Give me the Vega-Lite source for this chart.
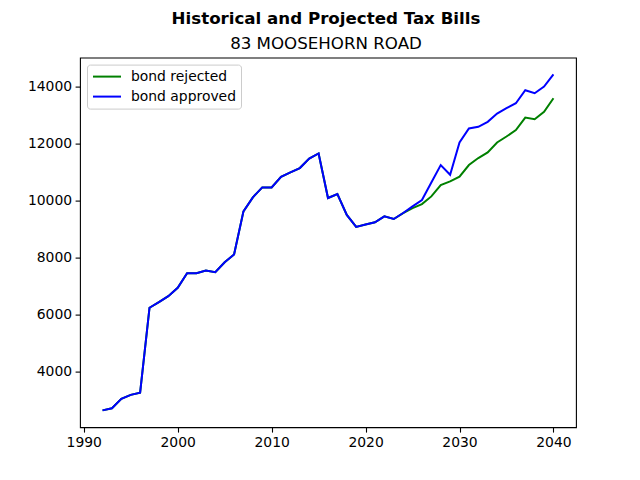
{
  "$schema": "https://vega.github.io/schema/vega-lite/v6.json",
  "width": 496,
  "height": 369.6,
  "autosize": {"type": "none"},
  "padding": {"left": 80, "top": 57.6, "right": 64, "bottom": 52.8},
  "background": "white",
  "title": {
    "text": "Historical and Projected Tax Bills",
    "subtitle": "83 MOOSEHORN ROAD",
    "anchor": "middle",
    "font": "DejaVu Sans",
    "fontSize": 16.67,
    "fontWeight": "bold",
    "color": "black",
    "subtitleFont": "DejaVu Sans",
    "subtitleFontSize": 16.67,
    "subtitleFontWeight": "normal",
    "subtitleColor": "black",
    "subtitlePadding": 8,
    "offset": 5,
    "dx": -2
  },
  "config": {
    "view": {"stroke": "black", "strokeWidth": 1.1},
    "axis": {
      "labelFont": "DejaVu Sans",
      "labelFontSize": 13.9,
      "labelColor": "black",
      "tickColor": "black",
      "tickSize": 4.9,
      "tickWidth": 1.1,
      "labelPadding": 3.5,
      "domain": false,
      "grid": false,
      "title": null
    },
    "legend": {
      "labelFont": "DejaVu Sans",
      "labelFontSize": 13.9,
      "labelColor": "black"
    }
  },
  "data": {
    "values": [
      {"year": 1992, "value": 2625, "series": "bond rejected"},
      {"year": 1993, "value": 2700, "series": "bond rejected"},
      {"year": 1994, "value": 3030, "series": "bond rejected"},
      {"year": 1995, "value": 3170, "series": "bond rejected"},
      {"year": 1996, "value": 3250, "series": "bond rejected"},
      {"year": 1997, "value": 6235, "series": "bond rejected"},
      {"year": 1998, "value": 6432, "series": "bond rejected"},
      {"year": 1999, "value": 6642, "series": "bond rejected"},
      {"year": 2000, "value": 6936, "series": "bond rejected"},
      {"year": 2001, "value": 7449, "series": "bond rejected"},
      {"year": 2002, "value": 7449, "series": "bond rejected"},
      {"year": 2003, "value": 7544, "series": "bond rejected"},
      {"year": 2004, "value": 7485, "series": "bond rejected"},
      {"year": 2005, "value": 7835, "series": "bond rejected"},
      {"year": 2006, "value": 8105, "series": "bond rejected"},
      {"year": 2007, "value": 9625, "series": "bond rejected"},
      {"year": 2008, "value": 10116, "series": "bond rejected"},
      {"year": 2009, "value": 10467, "series": "bond rejected"},
      {"year": 2010, "value": 10467, "series": "bond rejected"},
      {"year": 2011, "value": 10842, "series": "bond rejected"},
      {"year": 2012, "value": 10993, "series": "bond rejected"},
      {"year": 2013, "value": 11147, "series": "bond rejected"},
      {"year": 2014, "value": 11480, "series": "bond rejected"},
      {"year": 2015, "value": 11660, "series": "bond rejected"},
      {"year": 2016, "value": 10094, "series": "bond rejected"},
      {"year": 2017, "value": 10235, "series": "bond rejected"},
      {"year": 2018, "value": 9498, "series": "bond rejected"},
      {"year": 2019, "value": 9076, "series": "bond rejected"},
      {"year": 2020, "value": 9160, "series": "bond rejected"},
      {"year": 2021, "value": 9239, "series": "bond rejected"},
      {"year": 2022, "value": 9449, "series": "bond rejected"},
      {"year": 2023, "value": 9356, "series": "bond rejected"},
      {"year": 2024, "value": 9565, "series": "bond rejected"},
      {"year": 2025, "value": 9737, "series": "bond rejected"},
      {"year": 2026, "value": 9880, "series": "bond rejected"},
      {"year": 2027, "value": 10150, "series": "bond rejected"},
      {"year": 2028, "value": 10550, "series": "bond rejected"},
      {"year": 2029, "value": 10677, "series": "bond rejected"},
      {"year": 2030, "value": 10842, "series": "bond rejected"},
      {"year": 2031, "value": 11252, "series": "bond rejected"},
      {"year": 2032, "value": 11498, "series": "bond rejected"},
      {"year": 2033, "value": 11695, "series": "bond rejected"},
      {"year": 2034, "value": 12046, "series": "bond rejected"},
      {"year": 2035, "value": 12256, "series": "bond rejected"},
      {"year": 2036, "value": 12481, "series": "bond rejected"},
      {"year": 2037, "value": 12923, "series": "bond rejected"},
      {"year": 2038, "value": 12865, "series": "bond rejected"},
      {"year": 2039, "value": 13122, "series": "bond rejected"},
      {"year": 2040, "value": 13602, "series": "bond rejected"},
      {"year": 1992, "value": 2625, "series": "bond approved"},
      {"year": 1993, "value": 2700, "series": "bond approved"},
      {"year": 1994, "value": 3030, "series": "bond approved"},
      {"year": 1995, "value": 3170, "series": "bond approved"},
      {"year": 1996, "value": 3250, "series": "bond approved"},
      {"year": 1997, "value": 6235, "series": "bond approved"},
      {"year": 1998, "value": 6432, "series": "bond approved"},
      {"year": 1999, "value": 6642, "series": "bond approved"},
      {"year": 2000, "value": 6936, "series": "bond approved"},
      {"year": 2001, "value": 7449, "series": "bond approved"},
      {"year": 2002, "value": 7449, "series": "bond approved"},
      {"year": 2003, "value": 7544, "series": "bond approved"},
      {"year": 2004, "value": 7485, "series": "bond approved"},
      {"year": 2005, "value": 7835, "series": "bond approved"},
      {"year": 2006, "value": 8105, "series": "bond approved"},
      {"year": 2007, "value": 9625, "series": "bond approved"},
      {"year": 2008, "value": 10116, "series": "bond approved"},
      {"year": 2009, "value": 10467, "series": "bond approved"},
      {"year": 2010, "value": 10467, "series": "bond approved"},
      {"year": 2011, "value": 10842, "series": "bond approved"},
      {"year": 2012, "value": 10993, "series": "bond approved"},
      {"year": 2013, "value": 11147, "series": "bond approved"},
      {"year": 2014, "value": 11480, "series": "bond approved"},
      {"year": 2015, "value": 11660, "series": "bond approved"},
      {"year": 2016, "value": 10094, "series": "bond approved"},
      {"year": 2017, "value": 10235, "series": "bond approved"},
      {"year": 2018, "value": 9498, "series": "bond approved"},
      {"year": 2019, "value": 9076, "series": "bond approved"},
      {"year": 2020, "value": 9160, "series": "bond approved"},
      {"year": 2021, "value": 9239, "series": "bond approved"},
      {"year": 2022, "value": 9449, "series": "bond approved"},
      {"year": 2023, "value": 9356, "series": "bond approved"},
      {"year": 2024, "value": 9565, "series": "bond approved"},
      {"year": 2025, "value": 9800, "series": "bond approved"},
      {"year": 2026, "value": 10024, "series": "bond approved"},
      {"year": 2027, "value": 10642, "series": "bond approved"},
      {"year": 2028, "value": 11252, "series": "bond approved"},
      {"year": 2029, "value": 10912, "series": "bond approved"},
      {"year": 2030, "value": 12046, "series": "bond approved"},
      {"year": 2031, "value": 12537, "series": "bond approved"},
      {"year": 2032, "value": 12596, "series": "bond approved"},
      {"year": 2033, "value": 12772, "series": "bond approved"},
      {"year": 2034, "value": 13063, "series": "bond approved"},
      {"year": 2035, "value": 13252, "series": "bond approved"},
      {"year": 2036, "value": 13427, "series": "bond approved"},
      {"year": 2037, "value": 13883, "series": "bond approved"},
      {"year": 2038, "value": 13778, "series": "bond approved"},
      {"year": 2039, "value": 14011, "series": "bond approved"},
      {"year": 2040, "value": 14440, "series": "bond approved"}
    ]
  },
  "mark": {"type": "line", "strokeWidth": 2, "clip": true},
  "encoding": {
    "x": {
      "field": "year",
      "type": "quantitative",
      "scale": {"domain": [1989.6, 2042.4], "nice": false, "zero": false},
      "axis": {"values": [1990, 2000, 2010, 2020, 2030, 2040], "format": "d"}
    },
    "y": {
      "field": "value",
      "type": "quantitative",
      "scale": {"domain": [2034, 15031], "nice": false, "zero": false},
      "axis": {"values": [4000, 6000, 8000, 10000, 12000, 14000], "format": "d"}
    },
    "color": {
      "field": "series",
      "type": "nominal",
      "scale": {"domain": ["bond rejected", "bond approved"], "range": ["#008000", "#0000ff"]},
      "legend": {
        "title": null,
        "orient": "top-left",
        "offset": 7,
        "fillColor": "rgba(255,255,255,0.8)",
        "strokeColor": "#cccccc",
        "cornerRadius": 3,
        "padding": 5,
        "symbolType": "M-2.333,0L2.333,0",
        "symbolSize": 144,
        "symbolStrokeWidth": 2,
        "symbolOffset": 8,
        "labelOffset": 17,
        "rowPadding": 6
      }
    }
  }
}
